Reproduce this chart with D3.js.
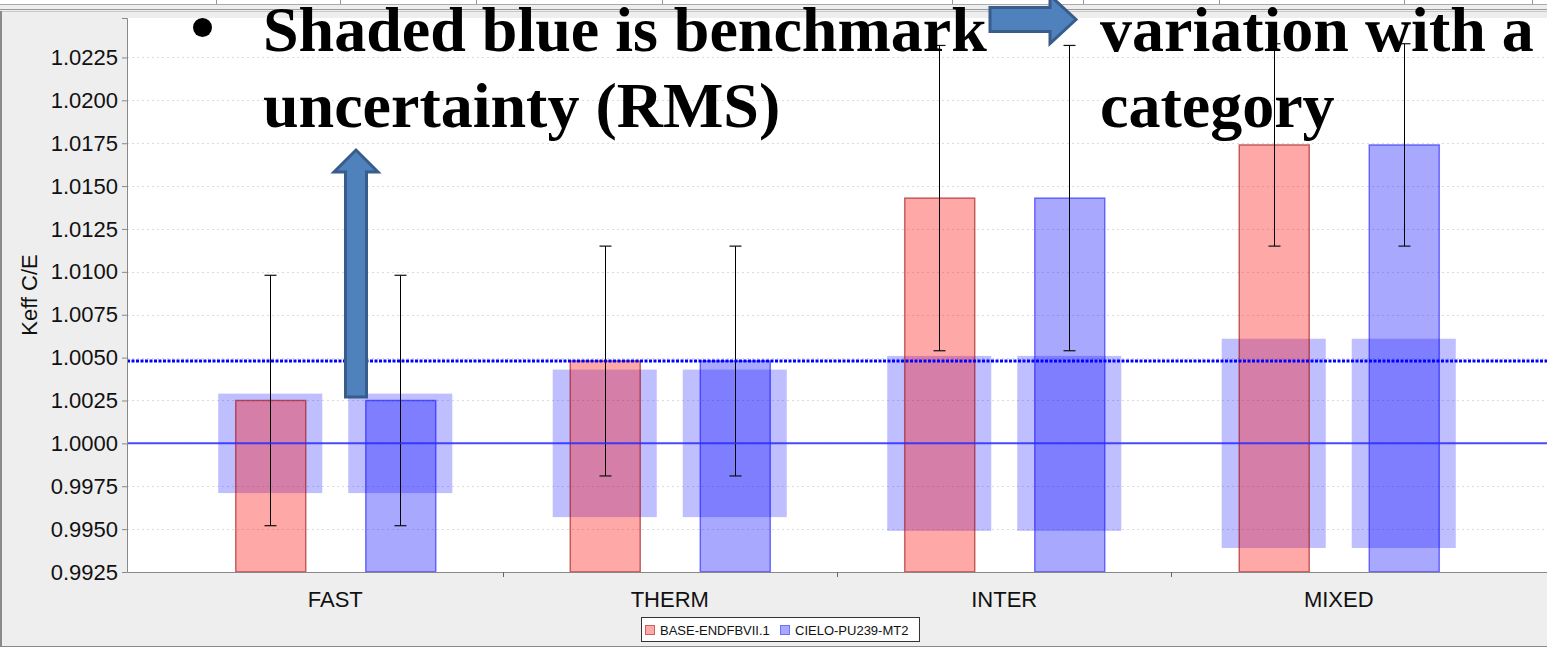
<!DOCTYPE html>
<html>
<head>
<meta charset="utf-8">
<script src="https://cdn.jsdelivr.net/npm/d3@7"></script>
<style>
  html, body { margin: 0; padding: 0; background: #eeeeee; }
  svg { display: block; }
</style>
</head>
<body>
<script>
// ---------------- DATA ----------------
const categories = ["FAST", "THERM", "INTER", "MIXED"];
const seriesNames = ["BASE-ENDFBVII.1", "CIELO-PU239-MT2"];
const baseValues  = [1.0025, 1.0048, 1.0143, 1.0174];
const cieloValues = [1.0025, 1.0048, 1.0143, 1.0174];
const baseErrors  = [0.0073, 0.0067, 0.0089, 0.0059];
const cieloErrors = [0.0073, 0.0067, 0.0089, 0.0059];
const benchmarkUnc = [0.0029, 0.0043, 0.0051, 0.0061];
const benchmarkValue = 1.0;
const averageValue = 1.0048;
const yTickValues = [0.9925, 0.9950, 0.9975, 1.0000, 1.0025, 1.0050, 1.0075, 1.0100,
                     1.0125, 1.0150, 1.0175, 1.0200, 1.0225];
const yDomain = [0.9925, 1.0248];
const yAxisTitle = "Keff C/E";
const annotationLeft = ["Shaded blue is benchmark", "uncertainty (RMS)"];
const annotationRight = ["variation with a", "category"];

// ---------------- LAYOUT ----------------
const W = 1547, H = 649;
const plot = { left: 127, right: 1547, top: 18, bottom: 572 };
const sans = "'Liberation Sans', Arial, sans-serif";
const serif = "'Liberation Serif', 'Times New Roman', serif";

const svg = d3.select("body").append("svg").attr("width", W).attr("height", H);

// background panel
svg.append("rect").attr("width", W).attr("height", H).attr("fill", "#eeeeee");
// top strip (window chrome)
svg.append("rect").attr("x", 0).attr("y", 0).attr("width", W).attr("height", 4.5).attr("fill", "#ffffff");
[216, 340, 476, 662, 952, 1083, 1219, 1404, 1532].forEach(x => {
  svg.append("line").attr("x1", x + 0.5).attr("x2", x + 0.5).attr("y1", 0).attr("y2", 4.5)
    .attr("stroke", "#999");
});
svg.append("line").attr("x1", 0).attr("x2", W).attr("y1", 4.5).attr("y2", 4.5).attr("stroke", "#aaa");
svg.append("line").attr("x1", 0).attr("x2", W).attr("y1", 9.5).attr("y2", 9.5).attr("stroke", "#999");
svg.append("line").attr("x1", 0).attr("x2", W).attr("y1", 11.5).attr("y2", 11.5).attr("stroke", "#c8c8c8");
// left & bottom border
svg.append("rect").attr("x", 0).attr("y", 11).attr("width", 2).attr("height", 636).attr("fill", "#8a8a8a");
svg.append("rect").attr("x", 0).attr("y", 647).attr("width", W).attr("height", 2).attr("fill", "#ffffff");
svg.append("line").attr("x1", 0).attr("x2", W).attr("y1", 646.5).attr("y2", 646.5).attr("stroke", "#8a8a8a");

// plot background
svg.append("rect").attr("x", plot.left).attr("y", plot.top)
  .attr("width", plot.right - plot.left).attr("height", plot.bottom - plot.top)
  .attr("fill", "#ffffff");

// ---------------- SCALES ----------------
const y = d3.scaleLinear().domain(yDomain).range([plot.bottom, plot.top]);
const x0 = d3.scaleBand().domain(categories).range([plot.left, plot.right])
  .paddingInner(0).paddingOuter(0.1226);
const x1 = d3.scaleBand().domain(seriesNames).range([0, x0.bandwidth()])
  .paddingInner(0.4615).paddingOuter(0.517);
const shadeWidth = x1.bandwidth() * 1.486;

const rows = categories.map((c, i) => ({
  cat: c,
  bench: benchmarkUnc[i],
  bars: [
    { s: seriesNames[0], v: baseValues[i], e: baseErrors[i] },
    { s: seriesNames[1], v: cieloValues[i], e: cieloErrors[i] }
  ]
}));

const fills = { [seriesNames[0]]: "rgba(255,0,0,0.34)", [seriesNames[1]]: "rgba(0,0,255,0.34)" };
const strokes = { [seriesNames[0]]: "rgba(150,0,0,0.55)", [seriesNames[1]]: "rgba(0,0,255,0.5)" };

// gridlines
const grid = svg.append("g");
grid.selectAll("line").data(yTickValues).join("line")
  .attr("x1", plot.left).attr("x2", plot.right)
  .attr("y1", d => Math.round(y(d)) + 0.5).attr("y2", d => Math.round(y(d)) + 0.5)
  .attr("stroke", "#dcdcdc").attr("stroke-dasharray", "2,3");

// benchmark shades
const g = svg.append("g");
rows.forEach(r => {
  r.bars.forEach(b => {
    const cx = x0(r.cat) + x1(b.s) + x1.bandwidth() / 2;
    g.append("rect")
      .attr("x", cx - shadeWidth / 2)
      .attr("y", y(benchmarkValue + r.bench))
      .attr("width", shadeWidth)
      .attr("height", y(benchmarkValue - r.bench) - y(benchmarkValue + r.bench))
      .attr("fill", "rgba(0,0,255,0.25)");
  });
});

// bars
rows.forEach(r => {
  r.bars.forEach(b => {
    g.append("rect")
      .attr("x", x0(r.cat) + x1(b.s) + 0.5)
      .attr("y", y(b.v))
      .attr("width", x1.bandwidth())
      .attr("height", y(yDomain[0]) - y(b.v))
      .attr("fill", fills[b.s])
      .attr("stroke", strokes[b.s]).attr("stroke-width", 1.5);
  });
});

// reference lines
svg.append("line").attr("x1", plot.left).attr("x2", plot.right)
  .attr("y1", y(benchmarkValue)).attr("y2", y(benchmarkValue))
  .attr("stroke", "#2a2aff").attr("stroke-opacity", 0.85).attr("stroke-width", 2);
svg.append("line").attr("x1", plot.left).attr("x2", plot.right)
  .attr("y1", y(averageValue)).attr("y2", y(averageValue))
  .attr("stroke", "#0000ff").attr("stroke-width", 3).attr("stroke-dasharray", "3,1.5");

// error bars
rows.forEach(r => {
  r.bars.forEach(b => {
    const cx = Math.round(x0(r.cat) + x1(b.s) + x1.bandwidth() / 2) + 0.5;
    const yt = y(b.v + b.e), yb = y(b.v - b.e);
    g.append("line").attr("x1", cx).attr("x2", cx).attr("y1", yt).attr("y2", yb)
      .attr("stroke", "#000").attr("stroke-width", 1);
    [yt, yb].forEach(yy => {
      g.append("line").attr("x1", cx - 6).attr("x2", cx + 6).attr("y1", yy).attr("y2", yy)
        .attr("stroke", "#111").attr("stroke-width", 1.2);
    });
  });
});

// ---------------- AXES ----------------
const yAxis = d3.axisLeft(y).tickValues(yTickValues).tickFormat(d3.format(".4f"))
  .tickSize(5).tickPadding(4);
const ya = svg.append("g").attr("transform", `translate(${plot.left},0)`).call(yAxis);
ya.select(".domain").attr("stroke", "#888");
ya.selectAll(".tick line").attr("stroke", "#888");
ya.selectAll("text").attr("font-family", sans).attr("font-size", 22).attr("fill", "#111");

const xAxis = d3.axisBottom(x0).tickSize(0).tickPadding(19);
const xa = svg.append("g").attr("transform", `translate(0,${plot.bottom})`).call(xAxis);
xa.select(".domain").attr("stroke", "#888");
xa.selectAll("text").attr("font-family", sans).attr("font-size", 22).attr("fill", "#111");
// category boundary ticks
xa.selectAll(".bnd").data(categories.slice(1)).join("line")
  .attr("x1", d => Math.round(x0(d)) + 0.5).attr("x2", d => Math.round(x0(d)) + 0.5)
  .attr("y1", 0).attr("y2", 5).attr("stroke", "#666");

// axis title
svg.append("text")
  .attr("transform", `translate(37,${(plot.top + plot.bottom) / 2}) rotate(-90)`)
  .attr("text-anchor", "middle")
  .attr("font-family", sans).attr("font-size", 22).attr("fill", "#111")
  .text(yAxisTitle);

// ---------------- LEGEND ----------------
const lg = svg.append("g");
lg.append("rect").attr("x", 641.5).attr("y", 617.5).attr("width", 278).attr("height", 24)
  .attr("fill", "#fff").attr("stroke", "#333");
const legendX = [645, 780];
const legendFill = ["#ffa8a8", "#a8a8ff"];
const legendStroke = ["#c86464", "#7070ff"];
seriesNames.forEach((s, i) => {
  lg.append("rect").attr("x", legendX[i] + 0.5).attr("y", 625.5).attr("width", 9).attr("height", 9)
    .attr("fill", legendFill[i]).attr("stroke", legendStroke[i]);
  lg.append("text").attr("x", legendX[i] + 15).attr("y", 635)
    .attr("font-family", sans).attr("font-size", 13).attr("fill", "#111").text(s);
});

// ---------------- ANNOTATIONS ----------------
const ann = svg.append("g");
ann.append("circle").attr("cx", 202.5).attr("cy", 27.5).attr("r", 9.5).attr("fill", "#000");
annotationLeft.forEach((t, i) => {
  ann.append("text").attr("x", 263).attr("y", 51 + i * 76)
    .attr("font-family", serif).attr("font-weight", "bold").attr("font-size", 64)
    .attr("fill", "#000").text(t);
});
annotationRight.forEach((t, i) => {
  ann.append("text").attr("x", 1100).attr("y", 51 + i * 76)
    .attr("font-family", serif).attr("font-weight", "bold").attr("font-size", 64)
    .attr("fill", "#000").text(t);
});
// arrows
const arrowFill = "#4f81bd", arrowStroke = "#385d8a";
ann.append("path")
  .attr("d", "M990,7.5 L1050,7.5 L1050,-4.5 L1076,19.5 L1050,43.5 L1050,31.5 L990,31.5 Z")
  .attr("fill", arrowFill).attr("stroke", arrowStroke).attr("stroke-width", 3);
ann.append("path")
  .attr("d", "M345.5,397 L345.5,172 L334,172 L356,150 L378,172 L366.5,172 L366.5,397 Z")
  .attr("fill", arrowFill).attr("stroke", arrowStroke).attr("stroke-width", 3);
</script>
</body>
</html>
